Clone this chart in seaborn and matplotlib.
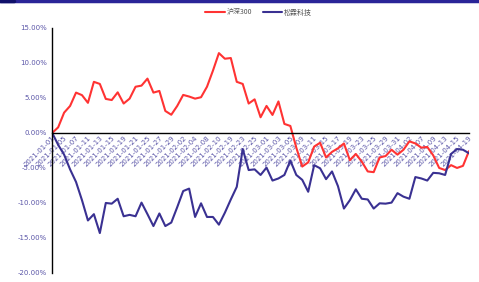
import matplotlib
matplotlib.use("Agg")
import matplotlib.pyplot as plt
from matplotlib.lines import Line2D
import seaborn as sns
import pandas as pd

# trading days, 2021-01-01 .. 2021-04-19
dates = ["2021-01-01", "2021-01-04", "2021-01-05", "2021-01-06", "2021-01-07", "2021-01-08",
         "2021-01-11", "2021-01-12", "2021-01-13", "2021-01-14", "2021-01-15", "2021-01-18",
         "2021-01-19", "2021-01-20", "2021-01-21", "2021-01-22", "2021-01-25", "2021-01-26",
         "2021-01-27", "2021-01-28", "2021-01-29", "2021-02-01", "2021-02-02", "2021-02-03",
         "2021-02-04", "2021-02-05", "2021-02-08", "2021-02-09", "2021-02-10", "2021-02-18",
         "2021-02-19", "2021-02-22", "2021-02-23", "2021-02-24", "2021-02-25", "2021-02-26",
         "2021-03-01", "2021-03-02", "2021-03-03", "2021-03-04", "2021-03-05", "2021-03-08",
         "2021-03-09", "2021-03-10", "2021-03-11", "2021-03-12", "2021-03-15", "2021-03-16",
         "2021-03-17", "2021-03-18", "2021-03-19", "2021-03-22", "2021-03-23", "2021-03-24",
         "2021-03-25", "2021-03-26", "2021-03-29", "2021-03-30", "2021-03-31", "2021-04-01",
         "2021-04-02", "2021-04-06", "2021-04-07", "2021-04-08", "2021-04-09", "2021-04-12",
         "2021-04-13", "2021-04-14", "2021-04-15", "2021-04-16", "2021-04-19"]

hs300 = [0.0, 0.8, 2.9, 3.85, 5.76, 5.4, 4.3, 7.3, 7.0, 4.86,
         4.7, 5.8, 4.2, 4.9, 6.6, 6.76, 7.76, 5.76, 6.0, 3.14,
         2.6, 3.86, 5.43, 5.2, 4.9, 5.1, 6.6, 8.9, 11.4, 10.6,
         10.7, 7.3, 7.0, 4.2, 4.8, 2.24, 3.86, 2.57, 4.5, 1.29,
         1.0, -2.1, -4.8, -4.2, -1.95, -1.4, -3.5, -2.7, -2.2, -1.5,
         -3.9, -3.0, -4.1, -5.5, -5.6, -3.5, -3.3, -2.4, -3.1, -2.4,
         -1.2, -1.5, -2.1, -2.0, -3.2, -5.0, -5.3, -4.6, -5.0, -4.7,
         -2.6]

songlin = [0.0, -1.7, -3.1, -5.2, -7.0, -9.6, -12.5, -11.6, -14.3, -10.0,
           -10.1, -9.4, -11.9, -11.7, -11.9, -9.95, -11.6, -13.3, -11.5, -13.3,
           -12.8, -10.6, -8.3, -7.95, -12.0, -10.05, -12.0, -12.0, -13.1, -11.4,
           -9.5, -7.7, -2.3, -5.3, -5.2, -6.0, -4.95, -6.8, -6.5, -6.0,
           -3.95, -6.0, -6.7, -8.4, -4.6, -5.05, -6.6, -5.5, -7.6, -10.8,
           -9.6, -8.05, -9.4, -9.5, -10.8, -10.05, -10.1, -9.95, -8.6, -9.1,
           -9.4, -6.3, -6.5, -6.8, -5.7, -5.76, -6.0, -3.0, -2.3, -2.4,
           -2.9]

series_names = ["沪深300", "松霖科技"]
colors = ["#ff3333", "#3a3192"]

df = pd.concat([
    pd.DataFrame({"idx": range(len(dates)), "value": hs300, "series": series_names[0]}),
    pd.DataFrame({"idx": range(len(dates)), "value": songlin, "series": series_names[1]}),
])

sns.set_style("white")
plt.rcParams["font.family"] = ["Noto Sans CJK SC", "DejaVu Sans"]

fig = plt.figure(figsize=(4.79, 2.82), dpi=100)
ax = fig.add_axes([0.109, 0.032, 0.870, 0.869])

sns.lineplot(data=df, x="idx", y="value", hue="series", palette=colors,
             linewidth=1.5, ax=ax, legend=False)

# spine position first: it resets the tick setup
for s in ["top", "right"]:
    ax.spines[s].set_visible(False)
ax.spines["bottom"].set_position(("data", 0))
for s in ["left", "bottom"]:
    ax.spines[s].set_color("black")
    ax.spines[s].set_linewidth(1.0)
ax.set_axisbelow(True)  # lines run over the date labels

ax.set_xlim(0, len(dates) - 1)
ax.set_ylim(-20, 15)
ax.set_xlabel("")
ax.set_ylabel("")

label_color = "#5b56a8"
yvals = [15, 10, 5, 0, -5, -10, -15, -20]
ax.set_yticks(yvals)
ax.set_yticklabels([f"{v:.2f}%" for v in yvals],
                   fontsize=5, color=label_color, family="DejaVu Sans")

ax.set_xticks(range(len(dates)))
ax.set_xticklabels([d if i % 2 == 0 else "" for i, d in enumerate(dates)],
                   rotation=45, ha="right", va="top", rotation_mode="anchor",
                   fontsize=5, color=label_color, family="DejaVu Sans")
ax.tick_params(axis="x", direction="in", length=2.5, width=0.8, pad=1.5, color="black")
ax.tick_params(axis="y", direction="in", length=2.5, width=0.8, pad=4, color="black")

handles = [Line2D([0], [0], color=c, lw=1.5) for c in colors]
fig.legend(handles, series_names, loc="center", bbox_to_anchor=(0.54, 0.955),
           ncol=2, frameon=False, fontsize=5, handlelength=2.8, columnspacing=1.5,
           handletextpad=0.3, labelcolor="#555555")

# top banner line
fig.add_artist(Line2D([0, 1], [0.995, 0.995], transform=fig.transFigure,
                      color="#2a2598", lw=2.5))
fig.add_artist(Line2D([0, 0.03], [0.995, 0.995], transform=fig.transFigure,
                      color="#10106a", lw=2.5))

fig.savefig("out.png", dpi=100)
